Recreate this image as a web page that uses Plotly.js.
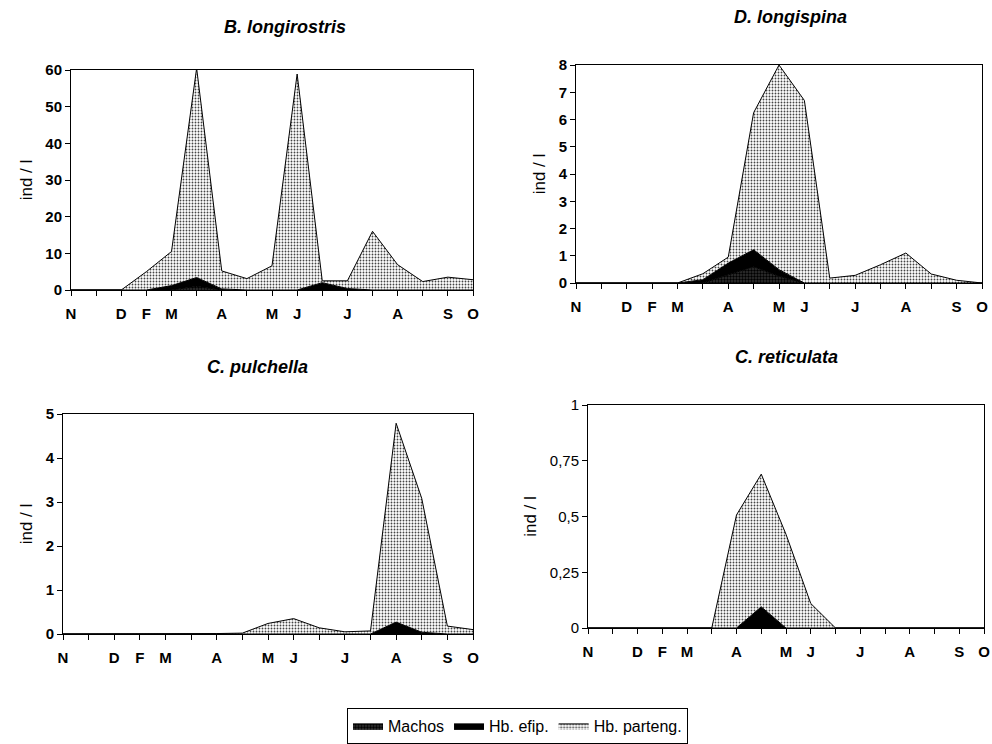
<!DOCTYPE html>
<html>
<head>
<meta charset="utf-8">
<script src="https://cdn.plot.ly/plotly-3.0.1.min.js"></script>
<style>html,body{margin:0;padding:0;background:#fff;}#chart{width:992px;height:744px;}</style>
</head>
<body>
<div id="chart"></div>
<script>
// sampling positions (17 samples) and month tick labels
const samples = [0,1,2,3,4,5,6,7,8,9,10,11,12,13,14,15,16];
const monthLabels = ['N','','D','F','M','','A','','M','J','','J','','A','','S','O'];

const seriesNames = ['Machos', 'Hb. efip.', 'Hb. parteng.'];
const panelTitles = ['B. longirostris', 'D. longispina', 'C. pulchella', 'C. reticulata'];

// B. longirostris (ind / l)
const bl_machos  = [0,0,0,0,0,1.0,0,0,0,0,0,0,0,0,0,0,0];
const bl_efip    = [0,0,0,0,1.2,2.4,0.3,0,0,0,2.0,0.4,0,0,0,0,0];
const bl_parteng = [0,0,0,5,9.3,57.1,4.9,3.1,6.6,58.9,0.5,2.1,16,6.9,2.3,3.5,2.8];

// D. longispina
const dl_machos  = [0,0,0,0,0,0,0.3,0.6,0.25,0,0,0,0,0,0,0,0];
const dl_efip    = [0,0,0,0,0,0.12,0.43,0.62,0.24,0,0,0,0,0,0,0,0];
const dl_parteng = [0,0,0,0,0,0.22,0.22,5.03,7.51,6.7,0.18,0.28,0.67,1.1,0.33,0.1,0];

// C. pulchella
const cp_machos  = [0,0,0,0,0,0,0,0,0,0,0,0,0,0,0,0,0];
const cp_efip    = [0,0,0,0,0,0,0,0,0,0,0,0,0,0.27,0.04,0,0];
const cp_parteng = [0,0,0,0,0.01,0.01,0.01,0.02,0.24,0.35,0.14,0.05,0.07,4.52,3.04,0.18,0.1];

// C. reticulata
const cr_machos  = [0,0,0,0,0,0,0,0,0,0,0,0,0,0,0,0,0];
const cr_efip    = [0,0,0,0,0,0,0,0.095,0,0,0,0,0,0,0,0,0];
const cr_parteng = [0,0,0,0,0,0,0.507,0.595,0.42,0.11,0,0,0,0,0,0,0];

const yTicks1 = [0,10,20,30,40,50,60];
const yTicks2 = [0,1,2,3,4,5,6,7,8];
const yTicks3 = [0,1,2,3,4,5];
const yTicks4 = [0,0.25,0.5,0.75,1];
const yTickText4 = ['0','0,25','0,5','0,75','1'];

const panels = [
  {m: bl_machos, e: bl_efip, p: bl_parteng},
  {m: dl_machos, e: dl_efip, p: dl_parteng},
  {m: cp_machos, e: cp_efip, p: cp_parteng},
  {m: cr_machos, e: cr_efip, p: cr_parteng}
];

const traces = [];
panels.forEach((pn, i) => {
  const ax = i === 0 ? '' : String(i + 1);
  const common = {x: samples, type: 'scatter', mode: 'lines', stackgroup: 'g' + i,
                  xaxis: 'x' + ax, yaxis: 'y' + ax, hoverinfo: 'skip',
                  line: {color: '#000', width: 1}};
  traces.push(Object.assign({}, common, {
    y: pn.m, name: seriesNames[0], showlegend: i === 0, legendgroup: 'm',
    fillcolor: '#2a2a2a',
    fillpattern: {shape: '.', fgcolor: '#000', bgcolor: '#333', size: 3, solidity: 0.5}
  }));
  traces.push(Object.assign({}, common, {
    y: pn.e, name: seriesNames[1], showlegend: i === 0, legendgroup: 'e',
    fillcolor: '#000'
  }));
  traces.push(Object.assign({}, common, {
    y: pn.p, name: seriesNames[2], showlegend: i === 0, legendgroup: 'p',
    fillcolor: '#c8c8c8',
    fillpattern: {shape: '.', fgcolor: '#444', bgcolor: '#fff', size: 3, solidity: 0.3}
  }));
});

const baseFont = 'Arial, "Liberation Sans", sans-serif';
function xAxis(domain, anchor) {
  return {
    domain: domain, anchor: anchor, range: [0, 16],
    tickmode: 'array', tickvals: samples, ticktext: monthLabels,
    ticks: 'outside', ticklen: 5, tickcolor: '#000', tickwidth: 1,
    showline: true, linecolor: '#000', linewidth: 1, mirror: true,
    showgrid: false, zeroline: false, ticklabelstandoff: 5,
    tickfont: {family: baseFont, size: 15, color: '#000', weight: 'bold'}
  };
}
function yAxis(domain, anchor, range, vals, text, bold) {
  return {
    domain: domain, anchor: anchor, range: range,
    tickmode: 'array', tickvals: vals, ticktext: text,
    ticks: 'outside', ticklen: 5, tickcolor: '#000', tickwidth: 1,
    showline: true, linecolor: '#000', linewidth: 1, mirror: true,
    showgrid: false, zeroline: false,
    tickfont: {family: baseFont, size: 15, color: '#000', weight: bold ? 'bold' : 'normal'},
    title: {text: 'ind / l', font: {family: baseFont, size: 17, color: '#000'}, standoff: 8}
  };
}

const titleFont = {family: baseFont, size: 18, color: '#000', weight: 'bold', style: 'italic'};

const layout = {
  width: 992, height: 744,
  margin: {l: 0, r: 0, t: 0, b: 0},
  paper_bgcolor: '#fff', plot_bgcolor: '#fff',
  font: {family: baseFont, color: '#000'},
  xaxis: xAxis([71/992, 473/992], 'y'),
  yaxis: yAxis([1-290/744, 1-70/744], 'x', [0, 60], yTicks1, yTicks1.map(String), true),
  xaxis2: xAxis([576/992, 982/992], 'y2'),
  yaxis2: yAxis([1-283/744, 1-65/744], 'x2', [0, 8], yTicks2, yTicks2.map(String), true),
  xaxis3: xAxis([63/992, 473/992], 'y3'),
  yaxis3: yAxis([1-634/744, 1-414/744], 'x3', [0, 5], yTicks3, yTicks3.map(String), true),
  xaxis4: xAxis([588/992, 984/992], 'y4'),
  yaxis4: yAxis([1-628/744, 1-405/744], 'x4', [0, 1], yTicks4, yTickText4, false),
  annotations: [
    {text: '<b><i>' + panelTitles[0] + '</i></b>', x: 285/992, y: 1-27/744},
    {text: '<b><i>' + panelTitles[1] + '</i></b>', x: 790/992, y: 1-17/744},
    {text: '<b><i>' + panelTitles[2] + '</i></b>', x: 257/992, y: 1-367/744},
    {text: '<b><i>' + panelTitles[3] + '</i></b>', x: 786/992, y: 1-357/744}
  ].map(a => Object.assign({xref: 'paper', yref: 'paper', showarrow: false,
                            xanchor: 'center', yanchor: 'middle', font: titleFont}, a)),
  showlegend: true,
  legend: {
    orientation: 'h', x: 347/992, xanchor: 'left', y: 1-708/744, yanchor: 'top',
    bordercolor: '#000', borderwidth: 1, bgcolor: '#fff',
    font: {family: baseFont, size: 16, color: '#000'},
    itemwidth: 30, tracegroupgap: 0, traceorder: 'normal'
  }
};

Plotly.newPlot('chart', traces, layout, {staticPlot: true, displayModeBar: false});
</script>
</body>
</html>
